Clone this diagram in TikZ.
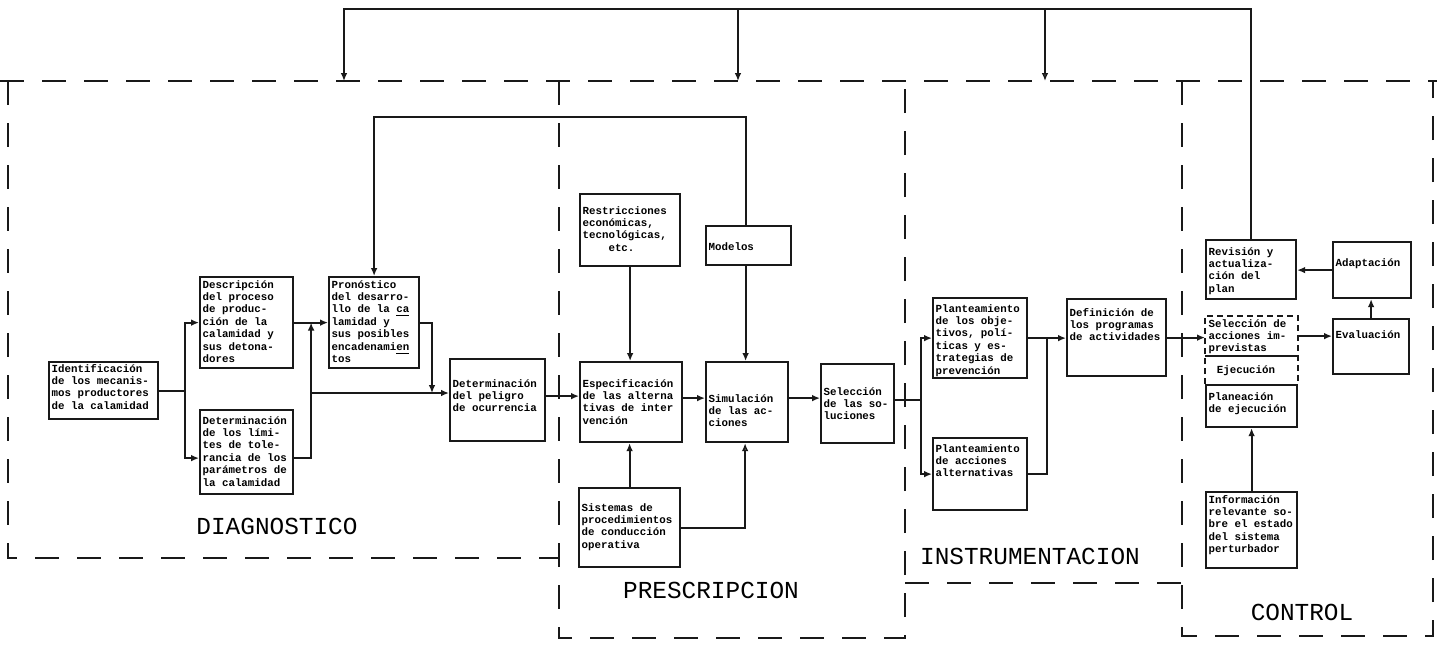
\documentclass[tikz,border=0pt]{standalone}
\usepackage{fontspec}
\usetikzlibrary{arrows.meta,calc}
\newfontfamily\boxfont{Liberation Mono}
\newfontfamily\zonefont{Liberation Mono}
\definecolor{InkClr}{RGB}{25,25,25}
\newlength\pxu
\setlength\pxu{0.5pt}
% box text: width, height, first baseline, lines
\newcommand\bx[4]{\parbox[c][#2\pxu][t]{\dimexpr#1\pxu-5\pxu\relax}{\raggedright\rule{0pt}{#3\pxu}#4}}

\begin{document}
\begin{tikzpicture}[x=0.5pt,y=-0.5pt,
  blk/.style={draw=InkClr,line width=1.1pt,anchor=north west,inner xsep=1.25pt,inner ysep=0pt,
    font={\boxfont\bfseries\fontsize{5.4}{6.2}\selectfont}},
  conn/.style={draw=InkClr,line width=.9pt},
  arr/.style={conn,-{Latex[length=4pt,width=3.4pt]}},
  oarr/.style={conn,-{Latex[open,length=4pt,width=3.4pt]}},
  zone/.style={draw=InkClr,line width=1.1pt,dash pattern=on 12pt off 9pt},
  egrp/.style={draw=InkClr,line width=.8pt,dash pattern=on 3pt off 2pt},
  zlab/.style={inner sep=0pt,font={\zonefont\fontsize{12.2}{14}\selectfont}}]
\useasboundingbox (0,0) rectangle (1437,644);

% zones
\draw[zone] (0,81) -- (1437,81);
\draw[zone] (8,81) |- (559,558);
\draw[zone] (559,81) |- (905,638) -- (905,81);
\draw[zone] (905,583) -- (1182,583);
\draw[zone] (1182,81) |- (1433,636) -- (1433,81);

\node[zlab] (dgn) at (277,526) {DIAGNOSTICO};
\node[zlab] (prs) at (711,590) {PRESCRIPCION};
\node[zlab] (ins) at (1030,556) {INSTRUMENTACION};
\node[zlab] (ctl) at (1302,612) {CONTROL};

% diagnostico
\node[blk] (ident) at (48,361) {\bx{109}{57}{10}{Identificación\\de los mecanis-\\mos productores\\de la calamidad}};
\node[blk] (descr) at (199,276) {\bx{93}{91}{11}{Descripción\\del proceso\\de produc-\\ción de la\\calamidad y\\sus detona-\\dores}};
\node[blk] (pron) at (328,276) {\bx{90}{91}{11}{Pronóstico\\del desarro-\\llo de la \underline{ca}\\lamidad y\\sus posibles\\encadenami\underline{en}\\tos}};
\node[blk] (limit) at (199,409) {\bx{93}{84}{14}{Determinación\\de los lími-\\tes de tole-\\rancia de los\\parámetros de\\la calamidad}};
\node[blk] (pelig) at (449,358) {\bx{95}{82}{28}{Determinación\\del peligro\\de ocurrencia}};

% prescripcion
\node[blk] (restr) at (579,193) {\bx{100}{72}{20}{Restricciones\\económicas,\\tecnológicas,\\\hspace*{2.4em}etc.}};
\node[blk] (model) at (705,225) {\bx{85}{39}{24}{Modelos}};
\node[blk] (espec) at (579,361) {\bx{102}{80}{25}{Especificación\\de las alterna\\tivas de inter\\vención}};
\node[blk] (simul) at (705,361) {\bx{82}{80}{40}{Simulación\\de las ac-\\ciones}};
\node[blk] (selec) at (820,363) {\bx{73}{79}{31}{Selección\\de las so-\\luciones}};
\node[blk] (sist) at (578,487) {\bx{101}{79}{23}{Sistemas de\\procedimientos\\de conducción\\operativa}};

% instrumentacion
\node[blk] (pobj) at (932,297) {\bx{94}{80}{14}{Planteamiento\\de los obje-\\tivos, polí-\\ticas y es-\\trategias de\\prevención}};
\node[blk] (pacc) at (932,437) {\bx{94}{72}{14}{Planteamiento\\de acciones\\alternativas}};
\node[blk] (defin) at (1066,298) {\bx{99}{77}{17}{Definición de\\los programas\\de actividades}};

% control
\node[blk] (revis) at (1205,239) {\bx{90}{59}{15}{Revisión y\\actualiza-\\ción del\\plan}};
\node[blk] (adapt) at (1332,241) {\bx{78}{56}{24}{Adaptación}};
\node[blk] (evalu) at (1332,318) {\bx{76}{55}{19}{Evaluación}};
\node[blk,draw=none] (selim) at (1205,316) {\bx{91}{38}{10}{Selección de\\acciones im-\\previstas}};
\node[blk] (plane) at (1205,384) {\bx{91}{42}{15}{Planeación\\de ejecución}};
\node[blk] (infor) at (1205,491) {\bx{91}{76}{11}{Información\\relevante so-\\bre el estado\\del sistema\\perturbador}};
\node[blk,draw=none,anchor=center] (ejec) at (1246,371) {Ejecución};
\draw[egrp] (plane.north west) |- (selim.north east) -- (plane.north east);
\draw[conn,line width=1.1pt] (selim.south west) -- (selim.south east);

% diagnostico links
\coordinate (ja) at ([xshift=13pt]ident.east);
\coordinate (jb) at (312,393);
\coordinate (jc) at (432,393);
\draw[conn] (ident.east) -- (ja);
\draw[arr] (ja) |- (descr.west);
\draw[arr] (ja) |- ([yshift=-3pt]limit.west);
\draw[arr] (descr.east) -- (pron.west);
\draw[arr] ([yshift=-3pt]limit.east) -| ($(descr.east)!.5!(pron.west)$);
\draw[arr] (jb) -- (jb -| pelig.west);
\draw[arr] (pron.east) -| (jc);

% prescripcion links
\coordinate (fbm) at (560,117);
\draw[arr] ([yshift=2pt]pelig.east) -- ([yshift=2pt]pelig.east -| espec.west);
\draw[arr] (restr.south) -- (restr.south |- espec.north);
\draw[arr] ([xshift=-1.5pt]model.south) -- ([xshift=-1.5pt]model.south |- simul.north);
\draw[arr] ([yshift=2pt]espec.east) -- ([yshift=2pt]espec.east -| simul.west);
\draw[arr] ([yshift=2pt]simul.east) -- ([yshift=2pt]simul.east -| selec.west);
\draw[arr] (sist.north) -- (sist.north |- espec.south);
\draw[oarr] (sist.east) -| ([xshift=-1pt]simul.south);
\draw[arr] ([xshift=-1.5pt]model.north) |- (fbm) -| (pron.north);

% instrumentacion links
\coordinate (jd) at ([xshift=13pt,yshift=2pt]selec.east);
\draw[conn] ([yshift=2pt]selec.east) -- (jd);
\draw[arr] (jd) |- (pobj.west);
\draw[arr] (jd) |- (pacc.west);
\draw[arr] (pobj.east) -- (pobj.east -| defin.west);
\draw[conn] (pacc.east) -| ($(pobj.east)!.5!(defin.west)$);
\draw[arr] (defin.east) -- (defin.east -| selim.west);

% control links
\draw[arr] (selim.east) -- (selim.east -| evalu.west);
\draw[arr] (evalu.north) -- (evalu.north |- adapt.south);
\draw[arr] (adapt.west) -- (adapt.west -| revis.east);
\draw[arr] (infor.north) -- (infor.north |- plane.south);

% feedback over the four stages
\coordinate (fbt) at (0,9);
\coordinate (dgt) at (344,81);
\coordinate (prt) at (738,81);
\coordinate (ist) at (1045,81);
\draw[arr] (revis.north) |- (dgt |- fbt) -- (dgt);
\draw[arr] (prt |- fbt) -- (prt);
\draw[oarr] (ist |- fbt) -- (ist);
\end{tikzpicture}
\end{document}
